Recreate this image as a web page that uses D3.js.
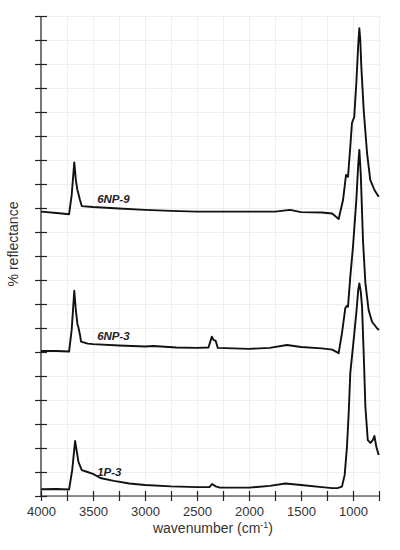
<!DOCTYPE html>
<html>
<head>
<meta charset="utf-8">
<script src="https://cdn.jsdelivr.net/npm/d3@7"></script>
<style>
  body { margin: 0; background: #fff; }
  text { font-family: "Liberation Sans", Arial, sans-serif; fill: #333; }
  .series-label { font-weight: bold; font-style: italic; font-size: 11.5px; fill: #222; }
</style>
</head>
<body>
<svg width="400" height="550"></svg>
<script>
const svg = d3.select('svg');
const width = +svg.attr('width');
const height = +svg.attr('height');

// x ticks (wavenumber) and y ticks (offset units)
const xTicks = d3.range(4000, 749, -250);
const xLabelTicks = [4000, 3500, 3000, 2500, 2000, 1500, 1000];
const yTicks = d3.range(0, 21, 1);

// spectra: wavenumber / reflectance (offset units)
const wn1P3 = [4000, 3850, 3730, 3700, 3672, 3640, 3608, 3560, 3500, 3430, 3300, 3150, 3000, 2750, 2500, 2380, 2355, 2320, 2280, 2000, 1800, 1650, 1500, 1300, 1200, 1150, 1106, 1080, 1058, 1040, 1026, 1000, 968, 950, 939, 925, 913, 895, 881, 858, 832, 810, 794, 775, 753];
const val1P3 = [0.28, 0.29, 0.27, 1.08, 2.29, 1.42, 1.08, 1.01, 0.92, 0.75, 0.63, 0.52, 0.46, 0.40, 0.37, 0.37, 0.50, 0.40, 0.35, 0.35, 0.42, 0.52, 0.46, 0.37, 0.33, 0.33, 0.39, 0.88, 2.05, 3.58, 5.13, 6.22, 7.63, 8.58, 8.86, 8.50, 7.89, 5.67, 3.72, 2.33, 2.21, 2.33, 2.50, 2.04, 1.71];

const wn6NP3 = [4000, 3850, 3730, 3705, 3680, 3665, 3650, 3641, 3625, 3615, 3550, 3500, 3250, 3000, 2920, 2700, 2500, 2390, 2357, 2340, 2320, 2300, 2000, 1800, 1635, 1500, 1300, 1200, 1138, 1106, 1074, 1060, 1048, 1026, 1000, 968, 950, 939, 925, 904, 881, 850, 817, 769, 750];
const val6NP3 = [6.04, 6.04, 6.02, 6.92, 8.55, 7.75, 7.17, 7.04, 6.71, 6.43, 6.35, 6.33, 6.27, 6.23, 6.25, 6.19, 6.17, 6.19, 6.64, 6.50, 6.46, 6.17, 6.13, 6.17, 6.29, 6.21, 6.15, 6.10, 5.95, 6.79, 7.83, 7.92, 7.89, 9.14, 10.39, 12.33, 13.79, 14.42, 13.38, 10.67, 8.88, 7.75, 7.26, 6.99, 6.92];

const wn6NP9 = [4000, 3850, 3730, 3705, 3680, 3665, 3650, 3641, 3625, 3608, 3500, 3250, 3000, 2750, 2500, 2000, 1750, 1604, 1500, 1300, 1200, 1138, 1096, 1067, 1048, 1026, 1010, 988, 968, 950, 939, 930, 920, 897, 865, 834, 794, 753];
const val6NP9 = [11.85, 11.79, 11.74, 12.54, 13.90, 13.17, 12.75, 12.61, 12.33, 12.08, 12.04, 11.98, 11.92, 11.88, 11.85, 11.85, 11.85, 11.92, 11.83, 11.81, 11.77, 11.54, 12.33, 13.38, 13.30, 14.55, 15.54, 15.80, 17.21, 18.79, 19.49, 19.00, 17.89, 16.08, 14.29, 13.17, 12.75, 12.47];

const seriesNames = ['6NP-9', '6NP-3', '1P-3'];
const labelAnchors = [[3460, 12.2], [3460, 6.5], [3460, 0.85]];

const series = [
  { name: seriesNames[0], pts: d3.zip(wn6NP9, val6NP9), label: labelAnchors[0] },
  { name: seriesNames[1], pts: d3.zip(wn6NP3, val6NP3), label: labelAnchors[1] },
  { name: seriesNames[2], pts: d3.zip(wn1P3, val1P3), label: labelAnchors[2] }
];

const margin = { top: 16, right: 21, bottom: 54, left: 41 };
const innerWidth = width - margin.left - margin.right;
const innerHeight = height - margin.top - margin.bottom;

const xScale = d3.scaleLinear()
  .domain([4000, 750])
  .range([0, innerWidth]);

const yScale = d3.scaleLinear()
  .domain([0, 20])
  .range([innerHeight, 0]);

const g = svg.append('g')
  .attr('transform', `translate(${margin.left},${margin.top})`);

// light grid
const xGrid = g.append('g')
  .attr('transform', `translate(0,${innerHeight})`)
  .call(d3.axisBottom(xScale).tickValues(xTicks).tickSize(-innerHeight).tickFormat(''));
const yGrid = g.append('g')
  .call(d3.axisLeft(yScale).tickValues(yTicks).tickSize(-innerWidth).tickFormat(''));
[xGrid, yGrid].forEach(s => {
  s.select('.domain').remove();
  s.selectAll('.tick text').remove();
  s.selectAll('.tick line').attr('stroke', '#ebebeb').attr('stroke-width', 0.8);
});

// spectra
const lineGen = d3.line()
  .x(d => xScale(d[0]))
  .y(d => yScale(d[1]));

g.selectAll('.spectrum')
  .data(series)
  .join('path')
    .attr('class', 'spectrum')
    .attr('d', d => lineGen(d.pts))
    .attr('fill', 'none')
    .attr('stroke', '#111')
    .attr('stroke-width', 1.9)
    .attr('stroke-linejoin', 'round');

g.selectAll('.series-label')
  .data(series)
  .join('text')
    .attr('class', 'series-label')
    .attr('x', d => xScale(d.label[0]))
    .attr('y', d => yScale(d.label[1]))
    .text(d => d.name);

// axes
const xAxisG = g.append('g')
  .attr('transform', `translate(0,${innerHeight})`)
  .call(d3.axisBottom(xScale)
    .tickValues(xTicks)
    .tickFormat(d => xLabelTicks.includes(d) ? d : ''));
xAxisG.selectAll('.tick line').attr('y1', -5).attr('y2', 5).attr('stroke', '#222').attr('stroke-width', 1.2);
xAxisG.selectAll('.tick text').filter(d => !xLabelTicks.includes(d)).remove();
xAxisG.selectAll('.tick text').attr('y', 11).style('font-size', '13px').attr('fill', '#333');
xAxisG.select('.domain').attr('d', `M0,0H${innerWidth}`).attr('stroke', '#222').attr('stroke-width', 1.2);

const yAxisG = g.append('g')
  .call(d3.axisLeft(yScale).tickValues(yTicks).tickFormat(''));
yAxisG.selectAll('.tick text').remove();
yAxisG.selectAll('.tick line').attr('x1', -6).attr('x2', 6).attr('stroke', '#222').attr('stroke-width', 1.2);
yAxisG.select('.domain').attr('d', `M0,0V${innerHeight}`).attr('stroke', '#222').attr('stroke-width', 1.2);

// axis titles
const xTitle = g.append('text')
  .attr('x', innerWidth / 2 + 3)
  .attr('y', innerHeight + 37)
  .attr('text-anchor', 'middle')
  .style('font-size', '14px');
xTitle.append('tspan').text('wavenumber (cm');
xTitle.append('tspan').attr('dy', -5).style('font-size', '9px').text('-1');
xTitle.append('tspan').attr('dy', 5).text(')');

g.append('text')
  .attr('transform', `translate(${-23},${yScale(10.5)}) rotate(-90)`)
  .attr('text-anchor', 'middle')
  .style('font-size', '14px')
  .text('% reflectance');
</script>
</body>
</html>
